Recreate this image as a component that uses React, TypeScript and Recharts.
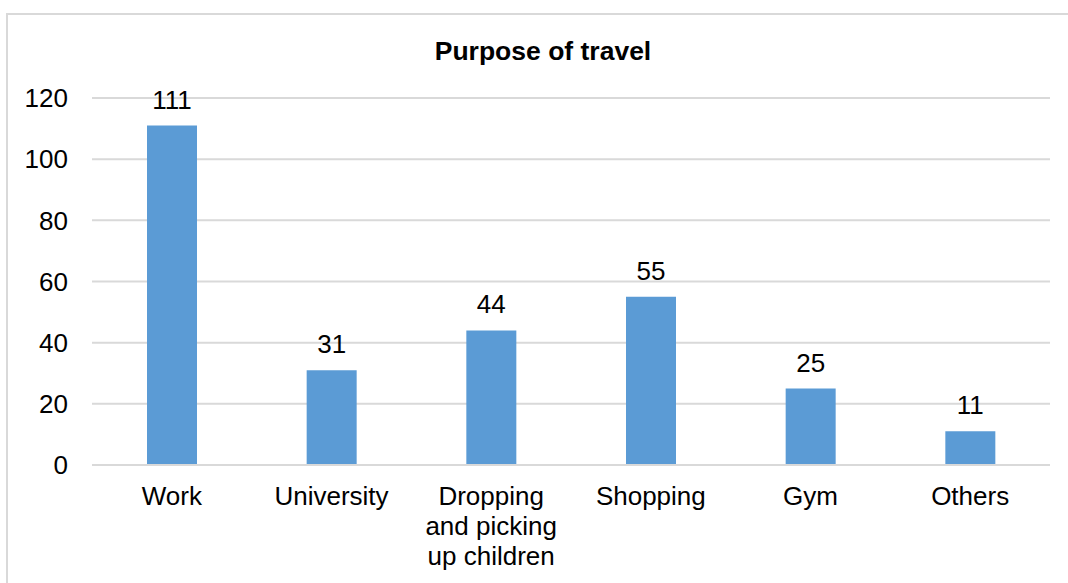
import { BarChart, Bar, XAxis, YAxis, CartesianGrid, LabelList } from 'recharts'

const purposes = ['Work', 'University', 'Dropping and picking up children', 'Shopping', 'Gym', 'Others']
const trips = [111, 31, 44, 55, 25, 11]
const yTicks = [0, 20, 40, 60, 80, 100, 120]

const data = purposes.map((name, i) => ({ name, trips: trips[i] }))

const FONT = '"Liberation Sans", Arial, sans-serif'

// greedy word wrap so long category names stack under the bar
function wrap(label: string, maxChars = 11) {
  const lines: string[] = []
  let cur = ''
  for (const w of label.split(' ')) {
    const next = cur ? cur + ' ' + w : w
    if (next.length > maxChars && cur) {
      lines.push(cur)
      cur = w
    } else {
      cur = next
    }
  }
  if (cur) lines.push(cur)
  return lines
}

function CategoryTick({ x, y, payload }: any) {
  const lines = wrap(String(payload.value))
  return (
    <text x={x} y={y + 40} textAnchor="middle" fill="#000" fontSize={26} fontFamily={FONT}>
      {lines.map((l, i) => (
        <tspan key={i} x={x} dy={i === 0 ? 0 : 30}>{l}</tspan>
      ))}
    </text>
  )
}

export default function App() {
  return (
    <div style={{ position: 'fixed', left: 0, top: 0, width: 1068, height: 583, background: '#fff', overflow: 'hidden' }}>
      {/* chart frame, only top and left edges fall inside the view */}
      <div style={{ position: 'absolute', left: 6, top: 13, width: 1100, height: 620, borderTop: '2px solid #d9d9d9', borderLeft: '2px solid #d9d9d9' }} />
      <BarChart
        width={1068}
        height={583}
        data={data}
        margin={{ top: 98, right: 18, left: 0, bottom: 0 }}
        style={{ position: 'absolute', left: 0, top: 0 }}
      >
        <text x={543} y={60} textAnchor="middle" fontSize={26.5} fontWeight="bold" fontFamily={FONT} fill="#000">
          Purpose of travel
        </text>
        <CartesianGrid vertical={false} stroke="#d9d9d9" strokeWidth={2} />
        <XAxis
          dataKey="name"
          height={118}
          axisLine={{ stroke: '#d9d9d9', strokeWidth: 2 }}
          tickLine={false}
          tickSize={0}
          tickMargin={0}
          interval={0}
          tick={<CategoryTick />}
        />
        <YAxis
          width={92}
          domain={[0, 120]}
          ticks={yTicks}
          axisLine={false}
          tickLine={false}
          tickSize={0}
          tickMargin={24}
          tick={{ fontSize: 26, fill: '#000', fontFamily: FONT }}
        />
        <Bar dataKey="trips" fill="#5b9bd5" barSize={50} isAnimationActive={false}>
          <LabelList dataKey="trips" position="top" offset={17} fill="#000" fontSize={26} fontFamily={FONT} />
        </Bar>
      </BarChart>
    </div>
  )
}
